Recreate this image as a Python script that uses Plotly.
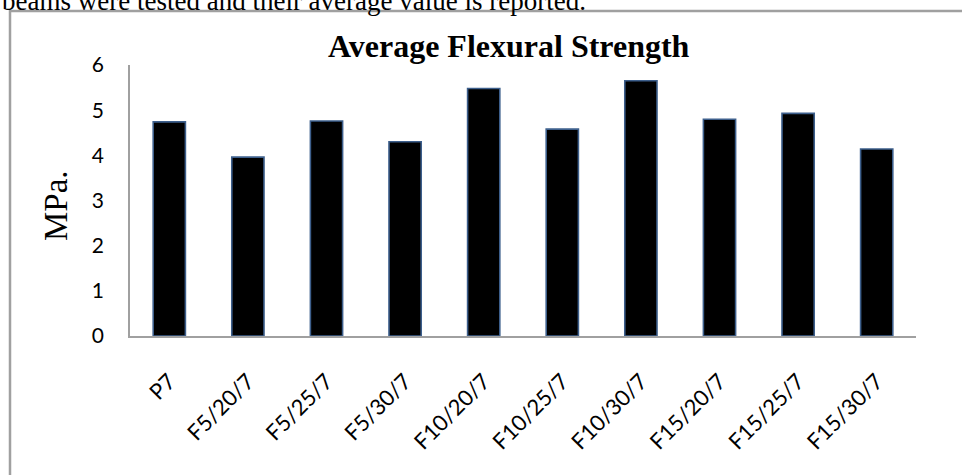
import plotly.graph_objects as go

categories = ["P7", "F5/20/7", "F5/25/7", "F5/30/7", "F10/20/7",
              "F10/25/7", "F10/30/7", "F15/20/7", "F15/25/7", "F15/30/7"]
strength = [4.74, 3.96, 4.76, 4.30, 5.48, 4.58, 5.65, 4.80, 4.93, 4.14]
y_ticks = [0, 1, 2, 3, 4, 5, 6]

W, H = 962, 475
L, R, T, B = 130, 46, 65, 139
pw, ph = W - L - R, H - T - B

def px(x):
    return (x - L) / pw

def py(y):
    return (H - B - y) / ph

fig = go.Figure(go.Bar(
    x=categories, y=strength,
    marker=dict(color="black", line=dict(color="#3d5f8c", width=1.6)),
))

fig.update_layout(
    width=W, height=H,
    margin=dict(l=L, r=R, t=T, b=B, autoexpand=False),
    paper_bgcolor="white", plot_bgcolor="white",
    bargap=0.59, showlegend=False,
    font=dict(family="Lato", color="black"),
)
fig.update_xaxes(
    showgrid=False, showline=True, linecolor="#a0a0a0", linewidth=1.5,
    tickangle=-45, tickfont=dict(family="Lato", size=22, color="black"),
    ticks="", ticklabelstandoff=22, automargin=False,
)
fig.update_yaxes(
    range=[0, 6], tickvals=y_ticks, showgrid=False, zeroline=False,
    showline=True, linecolor="#a0a0a0", linewidth=1.5,
    tickfont=dict(family="Lato", size=21, color="black"),
    ticks="", ticklabelstandoff=20, automargin=False,
)

fig.add_annotation(text="<b>Average Flexural Strength</b>", xref="paper", yref="paper",
                   x=px(509), y=py(46), xanchor="center", yanchor="middle",
                   showarrow=False, font=dict(family="Liberation Serif", size=32, color="black"))
fig.add_annotation(text="MPa.", xref="paper", yref="paper", textangle=-90,
                   x=px(56), y=py(206), xanchor="center", yanchor="middle",
                   showarrow=False, font=dict(family="Liberation Serif", size=33, color="black"))
fig.add_annotation(text="beams were tested and their average value is reported.",
                   xref="paper", yref="paper", x=px(0), y=py(1),
                   xanchor="left", yanchor="middle", showarrow=False,
                   font=dict(family="Liberation Serif", size=27, color="black"))

fig.add_shape(type="rect", xref="paper", yref="paper",
              x0=px(10), x1=px(970), y0=py(485), y1=py(11),
              line=dict(color="#a0a0a0", width=2.5), fillcolor="rgba(0,0,0,0)")

fig.write_html("out.html", config={"displayModeBar": False},
               post_script="document.body.style.margin='0';")
